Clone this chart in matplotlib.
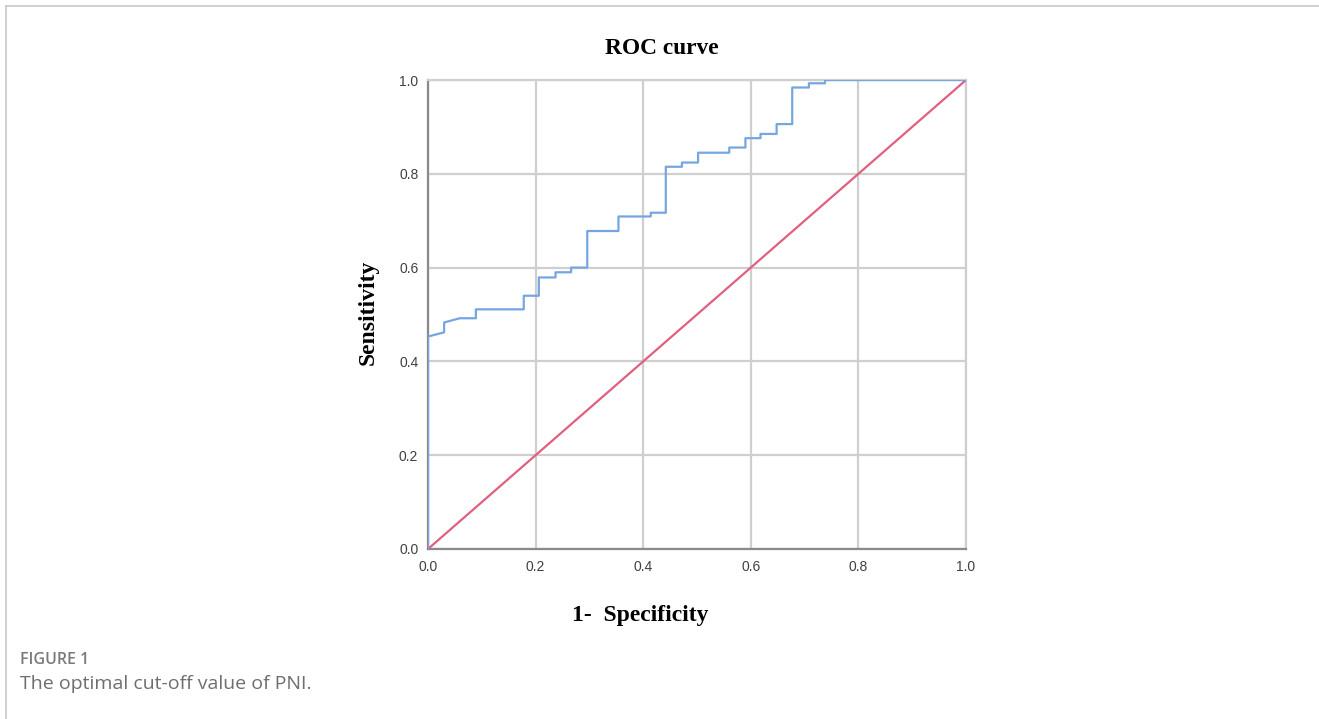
import matplotlib
matplotlib.use("Agg")
import matplotlib.pyplot as plt
from matplotlib.lines import Line2D

# ROC curve vertices (1 - specificity, sensitivity)
fpr = [0, 0, 0.030, 0.030, 0.059, 0.089, 0.089, 0.178, 0.178, 0.206, 0.206,
       0.237, 0.237, 0.266, 0.266, 0.296, 0.296, 0.354, 0.354, 0.414, 0.414,
       0.442, 0.442, 0.472, 0.472, 0.502, 0.502, 0.560, 0.560, 0.590, 0.590,
       0.618, 0.618, 0.648, 0.648, 0.677, 0.677, 0.708, 0.708, 0.738, 0.738, 1.0]
tpr = [0, 0.453, 0.462, 0.483, 0.492, 0.492, 0.511, 0.511, 0.540, 0.540, 0.579,
       0.579, 0.590, 0.590, 0.600, 0.600, 0.678, 0.678, 0.709, 0.709, 0.717,
       0.717, 0.815, 0.815, 0.824, 0.824, 0.845, 0.845, 0.856, 0.856, 0.876,
       0.876, 0.885, 0.885, 0.906, 0.906, 0.984, 0.984, 0.993, 0.993, 1.0, 1.0]
ref_x = [0, 1]
ref_y = [0, 1]
ticks = [0.0, 0.2, 0.4, 0.6, 0.8, 1.0]
tick_labels = ["0.0", "0.2", "0.4", "0.6", "0.8", "1.0"]

W, H = 1319, 719
fig = plt.figure(figsize=(W / 100, H / 100), dpi=100)

ax = fig.add_axes([428 / W, 1 - 549 / H, (966 - 428) / W, (549 - 80) / H])
ax.set_xlim(0, 1)
ax.set_ylim(0, 1)
ax.set_xticks(ticks)
ax.set_yticks(ticks)
ax.set_xticklabels(tick_labels)
ax.set_yticklabels(tick_labels)
ax.grid(True, color="#cfcfcf", linewidth=1.6)
ax.set_axisbelow(True)
for s in ["top", "right"]:
    ax.spines[s].set_color("#cfcfcf")
    ax.spines[s].set_linewidth(1.6)
for s in ["left", "bottom"]:
    ax.spines[s].set_color("#8a8a8a")
    ax.spines[s].set_linewidth(1.6)
ax.tick_params(length=0, labelsize=10, labelcolor="#404040")
ax.tick_params(axis="x", pad=8)
ax.tick_params(axis="y", pad=7)
for lab in ax.get_xticklabels() + ax.get_yticklabels():
    lab.set_fontfamily("Liberation Sans")

ax.plot(ref_x, ref_y, color="#e0607e", linewidth=1.6, zorder=3)
ax.plot(fpr, tpr, color="#76a6e0", linewidth=1.6, zorder=4)

fig.text(662 / W, 1 - 48 / H, "ROC curve", family="Liberation Serif",
         fontweight="bold", fontsize=16.8, ha="center", va="center")
fig.text(368 / W, 1 - 312 / H, "Sensitivity", family="Liberation Serif",
         fontweight="bold", fontsize=17, ha="center", va="center", rotation=90)
fig.text(640 / W, 1 - 616 / H, "1-  Specificity", family="Liberation Serif",
         fontweight="bold", fontsize=17, ha="center", va="center")

fig.text(20 / W, 1 - 660 / H, "FIGURE 1", family="Open Sans", fontweight="semibold",
         fontsize=11.5, color="#7a7a7a", ha="left", va="center")
fig.text(20 / W, 1 - 684 / H, "The optimal cut-off value of PNI.", family="Open Sans",
         fontsize=14, color="#6e6e6e", ha="left", va="center")

# page frame (top and left edge)
fig.add_artist(Line2D([6 / W, 1.0], [1 - 6 / H, 1 - 6 / H], color="#c8c8c8",
                      linewidth=1.2, transform=fig.transFigure))
fig.add_artist(Line2D([6 / W, 6 / W], [0, 1 - 6 / H], color="#c8c8c8",
                      linewidth=1.2, transform=fig.transFigure))

fig.savefig("out.png", dpi=100)
